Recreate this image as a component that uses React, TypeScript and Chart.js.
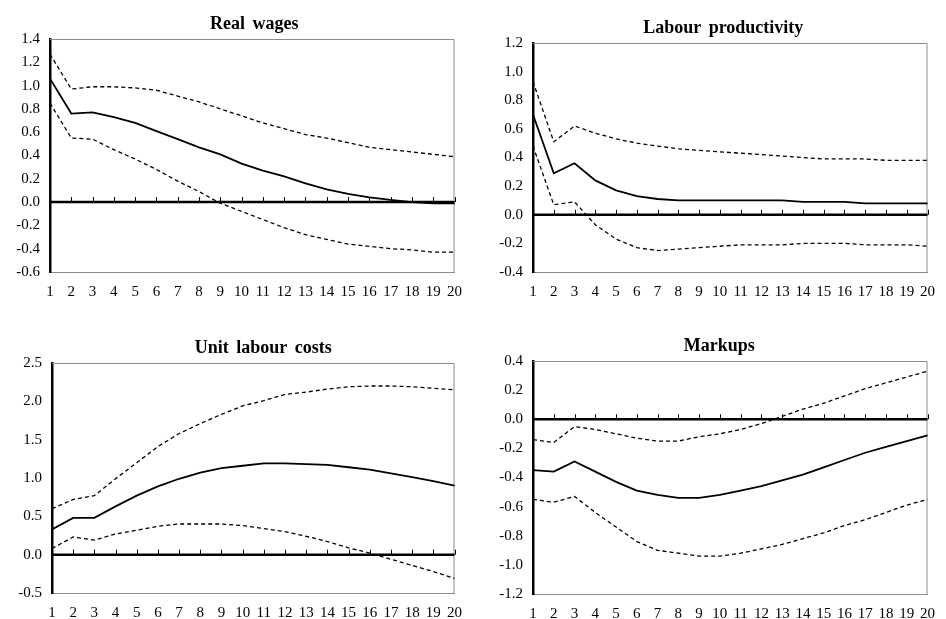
import React, { useEffect, useRef } from 'react';
import { Chart, registerables } from 'chart.js';

Chart.register(...registerables);

const periods = ['1','2','3','4','5','6','7','8','9','10','11','12','13','14','15','16','17','18','19','20'];

const realWagesMid = [1.06,0.76,0.77,0.73,0.68,0.61,0.54,0.47,0.41,0.33,0.27,0.22,0.16,0.11,0.07,0.04,0.02,0.00,-0.01,-0.01];
const realWagesUpper = [1.27,0.97,0.99,0.99,0.98,0.96,0.91,0.86,0.80,0.74,0.68,0.63,0.58,0.55,0.51,0.47,0.45,0.43,0.41,0.39];
const realWagesLower = [0.85,0.55,0.54,0.45,0.37,0.28,0.18,0.09,-0.01,-0.08,-0.15,-0.22,-0.28,-0.32,-0.36,-0.38,-0.40,-0.41,-0.43,-0.43];

const productivityMid = [0.70,0.29,0.36,0.24,0.17,0.13,0.11,0.10,0.10,0.10,0.10,0.10,0.10,0.09,0.09,0.09,0.08,0.08,0.08,0.08];
const productivityUpper = [0.93,0.51,0.62,0.57,0.53,0.50,0.48,0.46,0.45,0.44,0.43,0.42,0.41,0.40,0.39,0.39,0.39,0.38,0.38,0.38];
const productivityLower = [0.48,0.07,0.09,-0.07,-0.17,-0.23,-0.25,-0.24,-0.23,-0.22,-0.21,-0.21,-0.21,-0.20,-0.20,-0.20,-0.21,-0.21,-0.21,-0.22];

const ulcMid = [0.33,0.48,0.48,0.63,0.77,0.89,0.99,1.07,1.13,1.16,1.19,1.19,1.18,1.17,1.14,1.11,1.06,1.01,0.96,0.90];
const ulcUpper = [0.60,0.72,0.77,0.99,1.20,1.41,1.58,1.71,1.83,1.94,2.01,2.09,2.12,2.16,2.19,2.20,2.20,2.19,2.17,2.15];
const ulcLower = [0.08,0.23,0.19,0.27,0.32,0.37,0.40,0.40,0.40,0.38,0.34,0.30,0.24,0.17,0.09,0.02,-0.06,-0.14,-0.22,-0.31];

const markupsMid = [-0.35,-0.36,-0.29,-0.36,-0.43,-0.49,-0.52,-0.54,-0.54,-0.52,-0.49,-0.46,-0.42,-0.38,-0.33,-0.28,-0.23,-0.19,-0.15,-0.11];
const markupsUpper = [-0.14,-0.16,-0.05,-0.07,-0.10,-0.13,-0.15,-0.15,-0.12,-0.10,-0.07,-0.03,0.02,0.07,0.11,0.16,0.21,0.25,0.29,0.33];
const markupsLower = [-0.55,-0.57,-0.53,-0.64,-0.74,-0.84,-0.90,-0.92,-0.94,-0.94,-0.92,-0.89,-0.86,-0.82,-0.78,-0.73,-0.69,-0.64,-0.59,-0.55];

// y-axis ranges: [min, max, step]
const realWagesAxis = [-0.6, 1.4, 0.2];
const productivityAxis = [-0.4, 1.2, 0.2];
const ulcAxis = [-0.5, 2.5, 0.5];
const markupsAxis = [-1.2, 0.4, 0.2];

const FONT = "'Liberation Serif', 'Times New Roman', serif";
const Y_AXIS_W = 46;
const X_AXIS_H = 24;

const framePlugin = {
  id: 'frame',
  beforeDatasetsDraw(chart: any) {
    const { ctx, chartArea: a } = chart;
    ctx.save();
    ctx.strokeStyle = '#8c8c8c';
    ctx.lineWidth = 1;
    ctx.beginPath();
    ctx.moveTo(a.left, a.top + 0.5);
    ctx.lineTo(a.right - 0.5, a.top + 0.5);
    ctx.lineTo(a.right - 0.5, a.bottom);
    ctx.stroke();
    ctx.restore();
  },
  afterDatasetsDraw(chart: any) {
    const { ctx, chartArea: a, scales } = chart;
    const y0 = scales.y.getPixelForValue(0);
    ctx.save();
    ctx.strokeStyle = '#000';
    ctx.lineWidth = 2.5;
    ctx.beginPath();
    ctx.moveTo(a.left, y0);
    ctx.lineTo(a.right, y0);
    ctx.stroke();
    ctx.lineWidth = 1;
    ctx.beginPath();
    const n = scales.x.ticks.length;
    for (let i = 1; i < n; i++) {
      const x = Math.round(scales.x.getPixelForTick(i)) + 0.5;
      ctx.moveTo(x, y0);
      ctx.lineTo(x, y0 - 5);
    }
    ctx.stroke();
    ctx.restore();
  },
  afterDraw(chart: any) {
    const opts = chart.options.plugins.panelTitle;
    if (!opts) return;
    const { ctx, chartArea: a } = chart;
    ctx.save();
    ctx.font = `bold 18px ${FONT}`;
    ctx.fillStyle = '#000';
    ctx.textAlign = 'center';
    ctx.textBaseline = 'alphabetic';
    try { (ctx as any).wordSpacing = '3px'; } catch (e) {}
    ctx.fillText(opts.text, (a.left + a.right) / 2 + opts.dx, a.top - 10);
    ctx.restore();
  },
};

type PanelProps = {
  title: string;
  titleDx: number;
  mid: number[];
  upper: number[];
  lower: number[];
  axis: number[];
  box: { x: number; y: number; w: number; h: number };
  plot: { l: number; t: number; r: number; b: number };
};

function Panel({ title, titleDx, mid, upper, lower, axis, box, plot }: PanelProps) {
  const ref = useRef<HTMLCanvasElement | null>(null);
  useEffect(() => {
    if (!ref.current) return;
    const dashed = {
      borderColor: '#000',
      borderWidth: 1.3,
      borderDash: [4, 3],
      pointRadius: 0,
      fill: false,
      tension: 0,
    };
    const chart = new Chart(ref.current, {
      type: 'line',
      data: {
        labels: periods,
        datasets: [
          { ...dashed, label: 'upper', data: upper },
          { ...dashed, label: 'lower', data: lower },
          { label: 'mid', data: mid, borderColor: '#000', borderWidth: 1.8, pointRadius: 0, fill: false, tension: 0 },
        ],
      },
      options: {
        animation: false,
        responsive: false,
        maintainAspectRatio: false,
        devicePixelRatio: 1,
        events: [],
        layout: {
          padding: {
            left: plot.l - box.x - Y_AXIS_W,
            right: box.x + box.w - plot.r,
            top: plot.t - box.y,
            bottom: box.y + box.h - plot.b - X_AXIS_H,
          },
        },
        plugins: {
          legend: { display: false },
          tooltip: { enabled: false },
          title: { display: false },
          panelTitle: { text: title, dx: titleDx },
        } as any,
        scales: {
          x: {
            type: 'category',
            offset: false,
            grid: { display: false, drawTicks: false },
            border: { display: true, color: '#8c8c8c', width: 1 },
            ticks: {
              autoSkip: false,
              maxRotation: 0,
              padding: 11,
              color: '#000',
              font: { family: FONT, size: 15 },
            },
            afterFit: (s: any) => { s.height = X_AXIS_H; },
          },
          y: {
            min: axis[0],
            max: axis[1],
            grid: { display: false, drawTicks: false },
            border: { display: true, color: '#000', width: 2.5 },
            ticks: {
              stepSize: axis[2],
              padding: 10,
              color: '#000',
              font: { family: FONT, size: 15 },
              callback: (v: any) => Number(v).toFixed(1),
            },
            afterFit: (s: any) => { s.width = Y_AXIS_W; },
          },
        },
      },
      plugins: [framePlugin],
    });
    return () => chart.destroy();
  }, []);
  return (
    <div style={{ position: 'absolute', left: box.x, top: box.y, width: box.w, height: box.h }}>
      <canvas ref={ref} width={box.w} height={box.h} style={{ display: 'block' }} />
    </div>
  );
}

export default function App() {
  return (
    <div style={{ position: 'absolute', left: 0, top: 0, width: 946, height: 619, background: '#fff', overflow: 'hidden' }}>
      <Panel title="Real wages" titleDx={2} mid={realWagesMid} upper={realWagesUpper} lower={realWagesLower}
        axis={realWagesAxis} box={{ x: 0, y: 0, w: 473, h: 310 }} plot={{ l: 50, t: 39, r: 455, b: 272 }} />
      <Panel title="Labour productivity" titleDx={-7} mid={productivityMid} upper={productivityUpper} lower={productivityLower}
        axis={productivityAxis} box={{ x: 473, y: 0, w: 473, h: 310 }} plot={{ l: 533, t: 43, r: 939, b: 272 }} />
      <Panel title="Unit labour costs" titleDx={10} mid={ulcMid} upper={ulcUpper} lower={ulcLower}
        axis={ulcAxis} box={{ x: 0, y: 309, w: 473, h: 310 }} plot={{ l: 52, t: 363, r: 460, b: 593 }} />
      <Panel title="Markups" titleDx={-11} mid={markupsMid} upper={markupsUpper} lower={markupsLower}
        axis={markupsAxis} box={{ x: 473, y: 309, w: 473, h: 310 }} plot={{ l: 533, t: 361, r: 938, b: 594 }} />
    </div>
  );
}
